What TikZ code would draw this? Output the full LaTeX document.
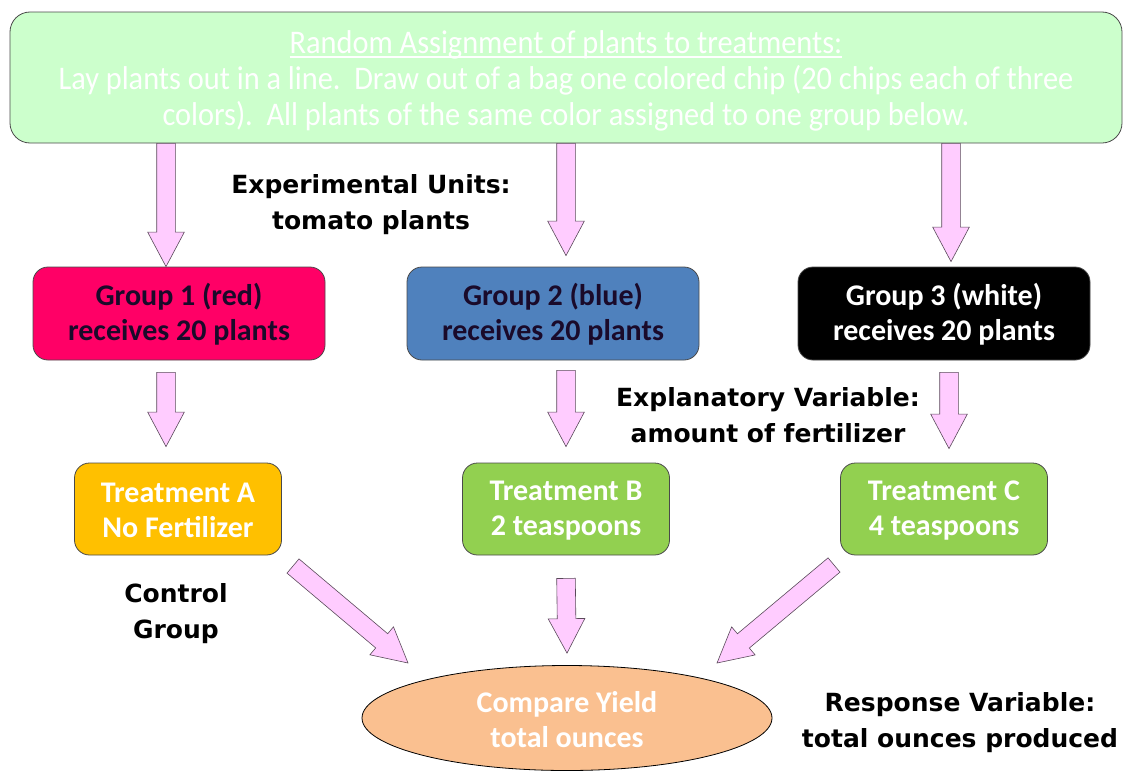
\documentclass[tikz,border=0pt]{standalone}
\usepackage{fontspec}
\setmainfont{Carlito}
\newfontfamily\condfont[FakeStretch=0.92]{Carlito}
\newfontfamily\labelfont{DejaVu Sans}
\usetikzlibrary{shapes.geometric,shapes.arrows,calc}
\definecolor{topfill}{HTML}{CCFFCC}
\definecolor{g1fill}{HTML}{FF0066}
\definecolor{g2fill}{HTML}{4F81BD}
\definecolor{tafill}{HTML}{FFC000}
\definecolor{tbfill}{HTML}{92D050}
\definecolor{elfill}{HTML}{FAC090}
\definecolor{arrowfill}{HTML}{FFCCFF}
\definecolor{arrowline}{HTML}{5A4A5A}
\definecolor{boxline}{HTML}{4A4A4A}
\definecolor{darktext}{HTML}{1A0A2A}
\tikzset{
  box/.style={draw=boxline, line width=0.8pt, rounded corners=15pt, align=center, inner sep=0pt,
    font=\bfseries\fontsize{30}{35}\selectfont},
  groupbox/.style={box, minimum width=292pt, minimum height=93pt},
  treatbox/.style={box, minimum width=207pt, minimum height=92pt, text=white},
  lbl/.style={align=center, inner sep=0pt, font=\labelfont\bfseries\fontsize{25}{36}\selectfont},
  barrow/.style={single arrow, draw=arrowline, fill=arrowfill, line width=0.6pt,
    single arrow head extend=9pt, minimum width=36pt, single arrow tip angle=56,
    inner sep=9pt, outer sep=0pt}
}
\newcommand{\blockarrow}[2]{%
  \path let \p1=(#1), \p2=(#2), \n1={atan2(\y2-\y1,\x2-\x1)}, \n2={veclen(\x2-\x1,\y2-\y1)} in
    node[barrow, minimum height=\n2, rotate=\n1, anchor=tail] at (#1) {};}
\newcommand{\ulinetext}[1]{\setbox0\hbox{#1}\rlap{\rule[-4pt]{\wd0}{1.4pt}}\box0}
\begin{document}
\begin{tikzpicture}[x=1pt,y=-1pt]
\useasboundingbox (0,0) rectangle (1123,771);
% top box
\node[draw=boxline, line width=0.8pt, fill=topfill, rounded corners=20pt, minimum width=1112pt,
  minimum height=131pt, inner sep=0pt, align=center, text=white,
  font=\condfont\fontsize{33}{36}\selectfont] (top) at (566,77.5)
  {\ulinetext{Random Assignment of plants to treatments:}\rule{0pt}{30pt}\\
   Lay plants out in a line.\ \ Draw out of a bag one colored chip (20 chips each of three\\
   colors).\ \ All plants of the same color assigned to one group below.};
% groups
\node[groupbox, fill=g1fill, text=darktext] (g1) at (179,313.5) {\rule{0pt}{23pt}Group 1 (red)\\receives 20 plants};
\node[groupbox, fill=g2fill, text=darktext] (g2) at (553,313.5) {\rule{0pt}{23pt}Group 2 (blue)\\receives 20 plants};
\node[groupbox, fill=black, text=white] (g3) at (944,313.5) {\rule{0pt}{23pt}Group 3 (white)\\receives 20 plants};
% treatments
\node[treatbox, fill=tafill] (ta) at (178,509) {\rule{0pt}{23pt}Treatment A\\No Fertilizer};
\node[treatbox, fill=tbfill] (tb) at (566,509) {\rule{0pt}{23pt}Treatment B\\2 teaspoons};
\node[treatbox, fill=tbfill] (tc) at (944,509) {\rule{0pt}{23pt}Treatment C\\4 teaspoons};
% ellipse
\node[ellipse, draw=black, line width=0.8pt, fill=elfill, minimum width=410pt, minimum height=105pt,
  inner sep=0pt, align=center, text=white, font=\bfseries\fontsize{30}{35}\selectfont] (cmp) at (567,718)
  {\rule{0pt}{25pt}Compare Yield\\total ounces};
% labels
\node[lbl] (eu) at (371,205) {Experimental Units:\\tomato plants};
\node[lbl] (ev) at (768,415) {Explanatory Variable:\\amount of fertilizer};
\node[lbl] (cg) at (176,614) {Control\\Group};
\node[lbl] (rv) at (960,723) {Response Variable:\\total ounces produced};
% arrow end points
\coordinate (a1s) at (top.south -| 166,0);
\coordinate (a1e) at (g1.north -| 166,0);
\coordinate (a2s) at (top.south -| 566,0);
\coordinate (a2e) at ($(g2.north -| 566,0)+(0,-11)$);
\coordinate (a3s) at (top.south -| 951,0);
\coordinate (a3e) at ($(g3.north -| 951,0)+(0,-5)$);
\coordinate (b1s) at ($(g1.south -| 166,0)+(0,12)$);
\coordinate (b1e) at ($(ta.north -| 166,0)+(0,-16)$);
\coordinate (b2s) at ($(g2.south -| 566,0)+(0,10)$);
\coordinate (b2e) at ($(tb.north -| 566,0)+(0,-16)$);
\coordinate (b3s) at ($(g3.south -| 949,0)+(0,12)$);
\coordinate (b3e) at ($(tc.north -| 949,0)+(0,-14)$);
\coordinate (c1s) at (293,566);
\coordinate (c1e) at (408,663);
\coordinate (c2s) at ($(tb.south)+(0,23)$);
\coordinate (c2e) at ($(cmp.north)+(0,-12)$);
\coordinate (c3s) at (834,565);
\coordinate (c3e) at (717,663);
% arrows
\blockarrow{a1s}{a1e}
\blockarrow{a2s}{a2e}
\blockarrow{a3s}{a3e}
\blockarrow{b1s}{b1e}
\blockarrow{b2s}{b2e}
\blockarrow{b3s}{b3e}
\blockarrow{c1s}{c1e}
\blockarrow{c2s}{c2e}
\blockarrow{c3s}{c3e}
\end{tikzpicture}
\end{document}
